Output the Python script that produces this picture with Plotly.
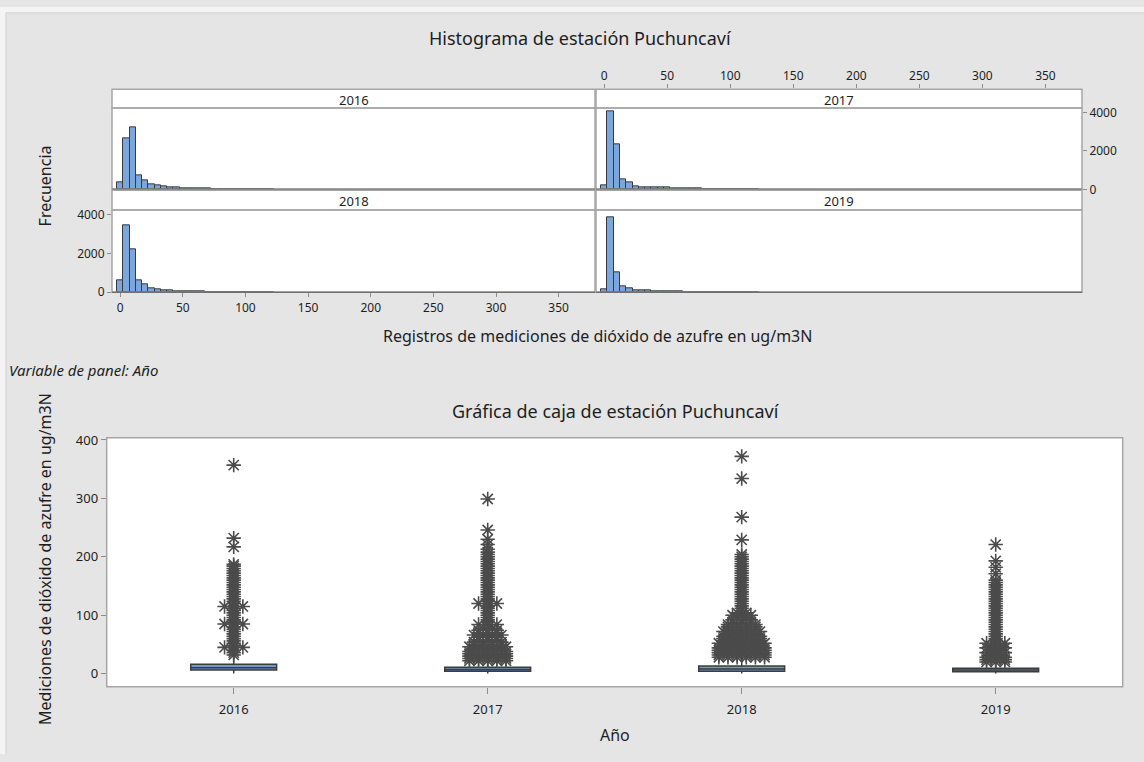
import plotly.graph_objects as go

W, H = 1144, 762


def px(x):
    return x / W


def py(y):
    return 1 - y / H


# ---------------- data ----------------
years = ["2016", "2017", "2018", "2019"]

# histogram bins (centres, width 5 ug/m3N)
bin_centers = [0, 5, 10, 15, 20, 25, 30, 35, 40, 45, 50, 55, 60, 65, 70, 75, 80, 85, 90, 95,
               100, 105, 110, 115, 120]
freq_2016 = [340, 2660, 3230, 715, 444, 272, 204, 138, 100, 80, 60, 50, 40, 35, 30, 25, 20, 16, 13, 10,
             8, 7, 6, 5, 4]
freq_2017 = [220, 4050, 2350, 510, 340, 170, 130, 120, 110, 100, 90, 70, 55, 45, 35, 28, 22, 18, 14, 10,
             8, 6, 5, 4, 3]
freq_2018 = [605, 3465, 2204, 590, 388, 217, 150, 110, 80, 60, 50, 40, 32, 26, 22, 18, 15, 12, 10, 8,
             7, 6, 5, 4, 3]
freq_2019 = [170, 3833, 1009, 300, 200, 120, 100, 90, 70, 50, 40, 32, 26, 20, 16, 13, 10, 8, 6, 5,
             4, 3, 3, 2, 2]
hist_freqs = [freq_2016, freq_2017, freq_2018, freq_2019]

hist_x_ticks = [0, 50, 100, 150, 200, 250, 300, 350]
hist_y_ticks = [0, 2000, 4000]

# box plot statistics
box_q1 = [6, 4, 4, 3]
box_median = [10, 7, 8, 6]
box_q3 = [16, 11, 13, 9]
box_low = [0, 0, 0, 0]
box_high = [30, 21, 27, 18]
box_y_ticks = [0, 100, 200, 300, 400]

# outliers: value and number of tied observations drawn side by side
out_2016_vals = [32, 36, 40, 45, 48, 52, 56, 60, 64, 68, 72, 76, 80, 85, 88, 92, 96, 100, 104, 108,
                 112, 115, 120, 124, 128, 132, 136, 140, 144, 148, 152, 156, 160, 164, 168, 172, 176,
                 180, 184, 187, 217, 232, 357]
out_2016_cnt = [1, 1, 1, 3, 1, 1, 1, 1, 1, 1, 1, 1, 1, 3, 1, 1, 1, 1, 1, 1,
                1, 3, 1, 1, 1, 1, 1, 1, 1, 1, 1, 1, 1, 1, 1, 1, 1,
                1, 1, 1, 1, 1, 1]

out_2017_vals = [22, 26, 30, 34, 38, 42, 46, 50, 54, 58, 62, 66, 70, 74, 78, 84, 88, 92, 96, 100,
                 104, 108, 112, 116, 120, 124, 128, 132, 136, 140, 144, 148, 152, 156, 160, 164, 168,
                 172, 176, 180, 184, 188, 192, 196, 200, 204, 208, 213, 221, 230, 246, 299]
out_2017_cnt = [5, 5, 5, 5, 5, 4, 5, 4, 4, 3, 3, 4, 3, 3, 2, 3, 1, 1, 1, 1,
                1, 1, 1, 1, 3, 1, 1, 1, 1, 1, 1, 1, 1, 1, 1, 1, 1,
                1, 1, 1, 1, 1, 1, 1, 1, 1, 1, 1, 1, 1, 1, 1]

out_2018_vals = [28, 32, 36, 40, 44, 48, 52, 56, 60, 64, 68, 72, 76, 80, 84, 88, 92, 96, 100, 104,
                 108, 112, 116, 120, 124, 128, 132, 136, 140, 144, 148, 152, 156, 160, 164, 168, 172,
                 176, 180, 184, 188, 192, 196, 200, 204, 229, 268, 334, 372]
out_2018_cnt = [6, 6, 6, 6, 6, 5, 6, 5, 5, 5, 4, 5, 4, 4, 4, 3, 3, 2, 3, 2,
                1, 1, 1, 1, 1, 1, 1, 1, 1, 1, 1, 1, 1, 1, 1, 1, 1,
                1, 1, 1, 1, 1, 1, 1, 1, 1, 1, 1, 1]

out_2019_vals = [20, 24, 28, 32, 36, 40, 44, 48, 52, 56, 60, 64, 68, 72, 76, 80, 84, 88, 92, 96,
                 100, 104, 108, 112, 116, 120, 124, 128, 132, 136, 140, 144, 148, 152, 156, 160,
                 171, 182, 193, 221]
out_2019_cnt = [3, 3, 3, 2, 3, 2, 3, 2, 3, 1, 1, 1, 1, 1, 1, 1, 1, 1, 1, 1,
                1, 1, 1, 1, 1, 1, 1, 1, 1, 1, 1, 1, 1, 1, 1, 1,
                1, 1, 1, 1]

out_vals = [out_2016_vals, out_2017_vals, out_2018_vals, out_2019_vals]
out_cnts = [out_2016_cnt, out_2017_cnt, out_2018_cnt, out_2019_cnt]

# ---------------- style ----------------
FONT = "Noto Sans"
TXT = "#1e1e1e"
BAR_FILL = "#7ba7dc"
BAR_LINE = "#3a3a3a"
BORDER = "#a6a6a6"
BOX_FILL = "#7397c6"
BOX_LINE = "#3c3c3c"
STAR = "#4b4b4b"

fig = go.Figure()

# histogram panels: (x left, x right), (y top incl. strip, strip bottom, y bottom)
cols = [(112, 595), (596, 1082)]
rows = [(84, 103, 186), (187, 207, 291)]
panels = [(cols[0], rows[0]), (cols[1], rows[0]), (cols[0], rows[1]), (cols[1], rows[1])]
y_tops = [5211, 5211, 5246, 5246]

for i, yr in enumerate(years):
    ax = "" if i == 0 else str(i + 1)
    fig.add_trace(go.Bar(
        x=bin_centers, y=hist_freqs[i], width=5,
        marker=dict(color=BAR_FILL, line=dict(color=BAR_LINE, width=1)),
        xaxis="x" + ax, yaxis="y" + ax, showlegend=False, hoverinfo="x+y",
    ))

tickfont_small = dict(family=FONT, size=12, color=TXT)
layout_axes = {}
for i, ((xl, xr), (yt, ys, yb)) in enumerate(panels):
    ax = "" if i == 0 else str(i + 1)
    xa = dict(domain=[px(xl), px(xr)], range=[-6.5, 379], anchor="y" + ax,
              showgrid=False, zeroline=False, showline=False,
              ticks="", showticklabels=False, fixedrange=True)
    ya = dict(domain=[py(yb), py(yt)], range=[0, y_tops[i]], anchor="x" + ax,
              showgrid=False, zeroline=False, showline=False,
              ticks="", showticklabels=False, fixedrange=True)
    if i == 1:
        xa.update(side="top", ticks="outside", ticklen=4, tickcolor="#8c8c8c",
                  tickvals=hist_x_ticks, showticklabels=True, tickfont=tickfont_small)
        ya.update(side="right", ticks="outside", ticklen=4, tickcolor="#8c8c8c",
                  tickvals=hist_y_ticks, showticklabels=True, tickfont=tickfont_small)
    if i == 2:
        xa.update(side="bottom", ticks="outside", ticklen=4, tickcolor="#8c8c8c",
                  tickvals=hist_x_ticks, showticklabels=True, tickfont=tickfont_small)
        ya.update(side="left", ticks="outside", ticklen=4, tickcolor="#8c8c8c",
                  tickvals=hist_y_ticks, showticklabels=True, tickfont=tickfont_small)
    layout_axes["xaxis" + ax] = xa
    layout_axes["yaxis" + ax] = ya

# ---------------- box plot ----------------
BX = "x5"
BY = "y5"
for i, yr in enumerate(years):
    fig.add_trace(go.Box(
        x=[i], q1=[box_q1[i]], median=[box_median[i]], q3=[box_q3[i]],
        lowerfence=[box_low[i]], upperfence=[box_high[i]],
        width=0.338, whiskerwidth=0, boxpoints=False,
        fillcolor=BOX_FILL, line=dict(color=BOX_LINE, width=1.5),
        xaxis=BX, yaxis=BY, showlegend=False, name=yr,
    ))

step = 0.036  # horizontal displacement of tied outliers (category units)
for i, yr in enumerate(years):
    xs, ys = [], []
    for v, n in zip(out_vals[i], out_cnts[i]):
        for k in range(n):
            xs.append(i + (k - (n - 1) / 2) * step)
            ys.append(v)
    fig.add_trace(go.Scatter(
        x=xs, y=ys, mode="markers",
        marker=dict(symbol="asterisk-open", size=12, color=STAR,
                    line=dict(color=STAR, width=1.6)),
        xaxis=BX, yaxis=BY, showlegend=False, name=yr, hoverinfo="y",
    ))

box_l, box_r, box_t, box_b = 106.7, 1122.7, 439.3, 693.3
layout_axes["xaxis5"] = dict(domain=[px(box_l), px(box_r)], range=[-0.5, 3.5], anchor="y5",
                             tickvals=[0, 1, 2, 3], ticktext=years, ticks="outside", ticklen=6,
                             ticklabelstandoff=5,
                             tickcolor="#8c8c8c", showgrid=False, zeroline=False, showline=False,
                             tickfont=dict(family=FONT, size=13, color=TXT), fixedrange=True)
layout_axes["yaxis5"] = dict(domain=[py(box_b), py(box_t)], range=[-22.3, 404], anchor="x5",
                             tickvals=box_y_ticks, ticks="outside", ticklen=5,
                             tickcolor="#8c8c8c", showgrid=False, zeroline=False, showline=False,
                             tickfont=dict(family=FONT, size=13, color=TXT), fixedrange=True)

# ---------------- shapes ----------------
shapes = []
shapes.append(dict(type="rect", xref="paper", yref="paper", x0=0, x1=1, y0=py(6), y1=1,
                   fillcolor="#f4f4f4", line=dict(width=0)))
shapes.append(dict(type="rect", xref="paper", yref="paper", x0=0, x1=px(6), y0=0, y1=1,
                   fillcolor="#f4f4f4", line=dict(width=0)))
shapes.append(dict(type="line", xref="paper", yref="paper", x0=px(6), x1=1, y0=py(6), y1=py(6),
                   line=dict(color="#cfcfcf", width=1)))
shapes.append(dict(type="line", xref="paper", yref="paper", x0=px(6), x1=px(6), y0=0, y1=py(6),
                   line=dict(color="#cfcfcf", width=1)))

for i, ((xl, xr), (yt, ys, yb)) in enumerate(panels):
    shapes.append(dict(type="rect", xref="paper", yref="paper", x0=px(xl), x1=px(xr),
                       y0=py(ys), y1=py(yt), fillcolor="white",
                       line=dict(color=BORDER, width=1.5)))
    shapes.append(dict(type="rect", xref="paper", yref="paper", x0=px(xl), x1=px(xr),
                       y0=py(yb), y1=py(ys), fillcolor="rgba(0,0,0,0)",
                       line=dict(color=BORDER, width=1.5)))
    shapes.append(dict(type="line", xref="paper", yref="paper", x0=px(xl), x1=px(xr),
                       y0=py(yb), y1=py(yb), line=dict(color="#707070", width=1.5)))

shapes.append(dict(type="rect", xref="paper", yref="paper", x0=px(box_l), x1=px(box_r),
                   y0=py(box_b), y1=py(box_t), fillcolor="rgba(0,0,0,0)",
                   line=dict(color=BORDER, width=1.5)))

# ---------------- annotations ----------------
ann = []


def text(x, y, s, size, angle=0, italic=False, xanchor="center"):
    ann.append(dict(x=px(x), y=py(y), xref="paper", yref="paper", text=s, showarrow=False,
                    xanchor=xanchor, yanchor="middle", textangle=angle,
                    font=dict(family=FONT, size=size, color=TXT,
                              style="italic" if italic else "normal")))


text(580, 32, "Histograma de estación Puchuncaví", 18)
text(597, 336, "Registros de mediciones de dióxido de azufre en ug/m3N", 16)
text(45, 183, "Frecuencia", 16, angle=-90)
text(7, 370, "Variable de panel: Año", 15, italic=True, xanchor="left")
text(615, 412, "Gráfica de caja de estación Puchuncaví", 18)
text(45, 563, "Mediciones de dióxido de azufre en ug/m3N", 16, angle=-90)
text(615, 743, "Año", 16)

for i, ((xl, xr), (yt, ys, yb)) in enumerate(panels):
    text((xl + xr) / 2, (yt + ys) / 2 + 1, years[i], 13)

fig.update_layout(
    width=W, height=H, margin=dict(l=0, r=0, t=0, b=0),
    paper_bgcolor="#e5e5e5", plot_bgcolor="white",
    bargap=0, showlegend=False,
    shapes=shapes, annotations=ann,
    font=dict(family=FONT, color=TXT),
    **layout_axes,
)

fig.write_html("out.html")
